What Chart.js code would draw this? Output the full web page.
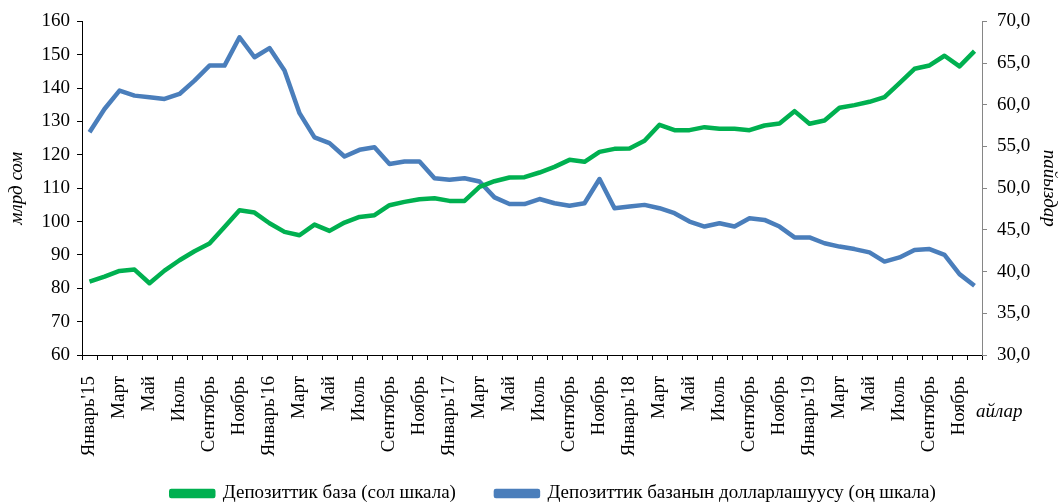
<!DOCTYPE html>
<html><head><meta charset="utf-8">
<script src="https://cdn.jsdelivr.net/npm/chart.js@4.4.0/dist/chart.umd.min.js"></script>
<style>html,body{margin:0;padding:0;background:#fff}</style>
</head><body>
<canvas id="c" width="1063" height="504"></canvas>
<script>
const monthLabels = [
  "Январь'15","","Март","","Май","","Июль","","Сентябрь","","Ноябрь","",
  "Январь'16","","Март","","Май","","Июль","","Сентябрь","","Ноябрь","",
  "Январь'17","","Март","","Май","","Июль","","Сентябрь","","Ноябрь","",
  "Январь'18","","Март","","Май","","Июль","","Сентябрь","","Ноябрь","",
  "Январь'19","","Март","","Май","","Июль","","Сентябрь","","Ноябрь",""
];
const depositBase = [
  82.0, 83.5, 85.2, 85.6, 81.5, 85.3, 88.4, 91.1, 93.4, 98.4, 103.4, 102.7,
  99.5, 96.9, 95.9, 99.1, 97.2, 99.7, 101.4, 101.9, 104.9, 105.9, 106.7, 107.0,
  106.2, 106.2, 110.4, 112.1, 113.2, 113.3, 114.7, 116.4, 118.5, 117.9, 120.9, 121.8,
  121.9, 124.2, 129.0, 127.4, 127.4, 128.3, 127.8, 127.8, 127.4, 128.8, 129.4, 133.1,
  129.3, 130.3, 134.1, 134.9, 135.9, 137.3, 141.5, 145.8, 146.8, 149.7, 146.5, 151.1
];
const dollarization = [
  56.7, 59.5, 61.7, 61.1, 60.9, 60.7, 61.3, 62.9, 64.7, 64.7, 68.1, 65.7,
  66.8, 64.1, 59.0, 56.1, 55.4, 53.8, 54.6, 54.9, 52.9, 53.2, 53.2, 51.2,
  51.0, 51.2, 50.8, 48.9, 48.1, 48.1, 48.7, 48.2, 47.9, 48.2, 51.1, 47.6,
  47.8, 48.0, 47.6, 47.0, 46.0, 45.4, 45.8, 45.4, 46.4, 46.2, 45.4, 44.1,
  44.1, 43.4, 43.0, 42.7, 42.3, 41.2, 41.7, 42.6, 42.7, 42.0, 39.7, 38.3
];
const seriesNames = ["Депозиттик база (сол шкала)", "Депозиттик базанын долларлашуусу (оң шкала)"];
const leftTitle = "млрд сом";
const rightTitle = "пайыздар";
const xTitle = "айлар";

const FONT = '"Liberation Serif", "Times New Roman", serif';
const GREEN = '#00B050';
const BLUE = '#4A7EBB';

const layoutTweaks = {
  id: 'layoutTweaks',
  afterLayout(chart) {
    const l = chart.legend;
    if (l) { l.left += 22; l.right += 22; }
  },
  afterDraw(chart) {
    const ctx = chart.ctx;
    ctx.save();
    ctx.font = 'italic 19px ' + FONT;
    ctx.fillStyle = '#000';
    ctx.textAlign = 'left';
    ctx.textBaseline = 'middle';
    ctx.fillText(xTitle, chart.chartArea.right - 6, 412);
    ctx.restore();
  }
};

new Chart(document.getElementById('c'), {
  type: 'line',
  data: {
    labels: monthLabels,
    datasets: [
      { label: seriesNames[0], data: depositBase, borderColor: GREEN, backgroundColor: GREEN,
        borderWidth: 4.5, pointRadius: 0, tension: 0, yAxisID: 'y', borderJoinStyle: 'round' },
      { label: seriesNames[1], data: dollarization, borderColor: BLUE, backgroundColor: BLUE,
        borderWidth: 4.5, pointRadius: 0, tension: 0, yAxisID: 'y1', borderJoinStyle: 'round' }
    ]
  },
  options: {
    responsive: false,
    animation: false,
    devicePixelRatio: 1,
    layout: { padding: { top: 21, left: 0, right: 0, bottom: -9 } },
    plugins: {
      tooltip: { enabled: false },
      legend: {
        position: 'bottom',
        labels: {
          font: { family: FONT, size: 19 },
          color: '#000',
          boxWidth: 42,
          boxHeight: 5,
          padding: 40
        }
      }
    },
    scales: {
      x: {
        offset: true,
        grid: { offset: true, drawOnChartArea: false, drawTicks: true, tickLength: 5, color: '#000' },
        border: { color: '#000', width: 1 },
        ticks: { autoSkip: false, maxRotation: 90, minRotation: 90, padding: 16,
                 font: { family: FONT, size: 19 }, color: '#000' },
        afterFit(s) { s.height = 89; },
        afterUpdate(s) { s._computeLabelArea = () => null; }
      },
      y: {
        position: 'left',
        min: 60, max: 160,
        ticks: { stepSize: 10, padding: 7, font: { family: FONT, size: 19 }, color: '#000' },
        grid: { drawOnChartArea: false, drawTicks: true, tickLength: 5, color: '#000' },
        border: { color: '#000', width: 1 },
        title: { display: true, text: leftTitle, font: { family: FONT, size: 19, style: 'italic' }, color: '#000', padding: { top: 6, bottom: 0 } },
        afterFit(s) { s.width = 82; }
      },
      y1: {
        position: 'right',
        min: 30, max: 70,
        ticks: { stepSize: 5, padding: 10, font: { family: FONT, size: 19 }, color: '#000',
                 callback: v => v.toFixed(1).replace('.', ',') },
        grid: { drawOnChartArea: false, drawTicks: true, tickLength: 5, color: '#868686' },
        border: { color: '#868686', width: 1 },
        title: { display: true, text: rightTitle, font: { family: FONT, size: 19, style: 'italic' }, color: '#000', padding: { top: 3, bottom: 0 } },
        afterFit(s) { s.width = 81; }
      }
    }
  },
  plugins: [layoutTweaks]
});
</script>
</body></html>
